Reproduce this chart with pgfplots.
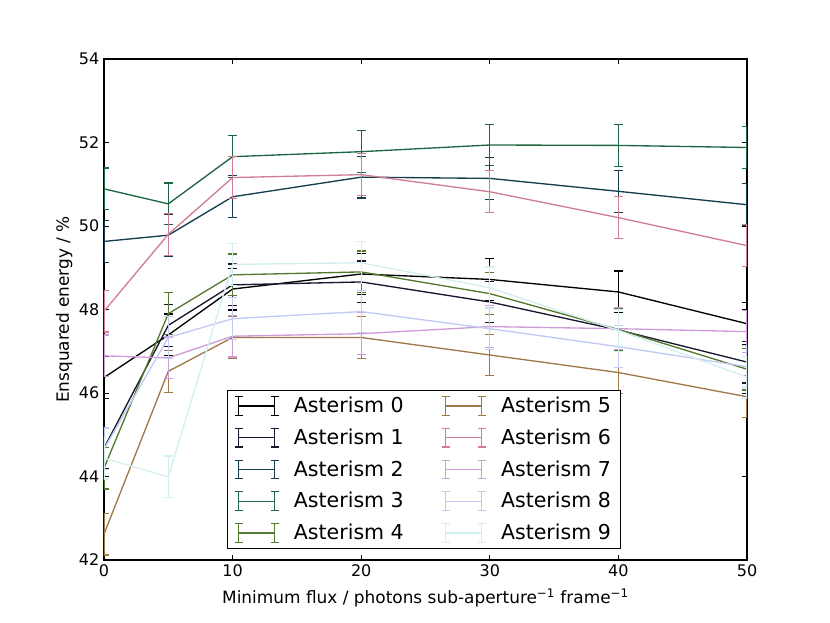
\documentclass[border=0pt]{standalone}
\usepackage{fontspec}
\setmainfont{DejaVu Sans}
\usepackage{pgfplots}
\pgfplotsset{compat=1.18}
\definecolor{c0}{HTML}{000000}
\definecolor{c1}{HTML}{1A1530}
\definecolor{c2}{HTML}{163D4E}
\definecolor{c3}{HTML}{1F6642}
\definecolor{c4}{HTML}{54792F}
\definecolor{c5}{HTML}{A07949}
\definecolor{c6}{HTML}{D07E93}
\definecolor{c7}{HTML}{CF9CDA}
\definecolor{c8}{HTML}{C1CAF3}
\definecolor{c9}{HTML}{D2EEEF}
\pgfplotsset{
  ebar/.style={line width=1pt, mark=none,
    error bars/y dir=both, error bars/y explicit,
    error bars/error bar style={line width=0.9pt},
    error bars/error mark options={rotate=90, mark size=3.5pt, line width=0.9pt},
    legend image code/.code={
      \draw[line width=0.9pt, solid] (0pt,0pt) -- (27pt,0pt);
      \draw[line width=0.9pt, solid] (0pt,-7pt) -- (0pt,7pt);
      \draw[line width=0.9pt, solid] (27pt,-7pt) -- (27pt,7pt);
      \draw[line width=0.9pt, solid] (-3pt,-7pt) -- (3pt,-7pt);
      \draw[line width=0.9pt, solid] (-3pt,7pt) -- (3pt,7pt);
      \draw[line width=0.9pt, solid] (24pt,-7pt) -- (30pt,-7pt);
      \draw[line width=0.9pt, solid] (24pt,7pt) -- (30pt,7pt);
    }},
}
\begin{document}
\begin{tikzpicture}
\useasboundingbox (-78pt,-47.25pt) rectangle (544.5pt,420pt);
\begin{axis}[
  at={(0pt,0pt)}, anchor=south west,
  width=482.25pt, height=375.75pt, scale only axis,
  xmin=0, xmax=50, ymin=42, ymax=54,
  xtick={0,10,20,30,40,50}, ytick={42,44,46,48,50,52,54},
  tick align=inside, major tick length=4pt,
  tick style={black, line width=0.7pt},
  axis line style={line width=0.9pt},
  ticklabel style={font=\fontsize{12}{14}\selectfont},
  /pgf/number format/assume math mode=true,
  xlabel={Minimum flux / photons sub-aperture\textsuperscript{−1} frame\textsuperscript{−1}},
  ylabel={Ensquared energy / \%},
  label style={font=\fontsize{12.7}{14}\selectfont},
  xlabel style={yshift=-2pt},
  ylabel style={yshift=-2pt},
  transpose legend,
  legend columns=5,
  legend style={at={(0.191,0.022)}, anchor=south west, font=\fontsize{15.4}{17}\selectfont,
    draw=black, line width=0.9pt, inner xsep=5pt, inner ysep=3pt,
    /tikz/every odd column/.append style={column sep=9pt},
    /tikz/every even column/.append style={column sep=26pt},
    row sep=6.6pt},
  legend cell align=left,
]
\addplot[ebar, c0] table[x=x,y=y,y error=e] {
x y e
0 46.37 0.5
5 47.39 0.5
10 48.49 0.5
20 48.85 0.5
30 48.72 0.5
40 48.42 0.5
50 47.66 0.5
};
\addlegendentry{Asterism 0}
\addplot[ebar, c1] table[x=x,y=y,y error=e] {
x y e
0 44.68 0.5
5 47.62 0.5
10 48.59 0.5
20 48.66 0.5
30 48.18 0.5
40 47.51 0.5
50 46.74 0.5
};
\addlegendentry{Asterism 1}
\addplot[ebar, c2] table[x=x,y=y,y error=e] {
x y e
0 49.63 0.5
5 49.78 0.5
10 50.70 0.5
20 51.17 0.5
30 51.14 0.5
40 50.83 0.5
50 50.51 0.5
};
\addlegendentry{Asterism 2}
\addplot[ebar, c3] table[x=x,y=y,y error=e] {
x y e
0 50.89 0.5
5 50.53 0.5
10 51.66 0.5
20 51.78 0.5
30 51.94 0.5
40 51.93 0.5
50 51.88 0.5
};
\addlegendentry{Asterism 3}
\addplot[ebar, c4] table[x=x,y=y,y error=e] {
x y e
0 44.20 0.5
5 47.90 0.5
10 48.83 0.5
20 48.90 0.5
30 48.38 0.5
40 47.52 0.5
50 46.57 0.5
};
\addlegendentry{Asterism 4}
\addplot[ebar, c5] table[x=x,y=y,y error=e] {
x y e
0 42.62 0.5
5 46.52 0.5
10 47.33 0.5
20 47.33 0.5
30 46.91 0.5
40 46.49 0.5
50 45.91 0.5
};
\addlegendentry{Asterism 5}
\addplot[ebar, c6] table[x=x,y=y,y error=e] {
x y e
0 47.96 0.5
5 49.80 0.5
10 51.16 0.5
20 51.23 0.5
30 50.82 0.5
40 50.20 0.5
50 49.53 0.5
};
\addlegendentry{Asterism 6}
\addplot[ebar, c7] table[x=x,y=y,y error=e] {
x y e
0 46.89 0.5
5 46.84 0.5
10 47.36 0.5
20 47.42 0.5
30 47.59 0.5
40 47.54 0.5
50 47.47 0.5
};
\addlegendentry{Asterism 7}
\addplot[ebar, c8] table[x=x,y=y,y error=e] {
x y e
0 44.66 0.5
5 47.33 0.5
10 47.78 0.5
20 47.95 0.5
30 47.54 0.5
40 47.11 0.5
50 46.63 0.5
};
\addlegendentry{Asterism 8}
\addplot[ebar, c9] table[x=x,y=y,y error=e] {
x y e
0 44.44 0.5
5 43.99 0.5
10 49.08 0.5
20 49.12 0.5
30 48.52 0.5
40 47.50 0.5
50 46.38 0.5
};
\addlegendentry{Asterism 9}
\end{axis}
\end{tikzpicture}
\end{document}
